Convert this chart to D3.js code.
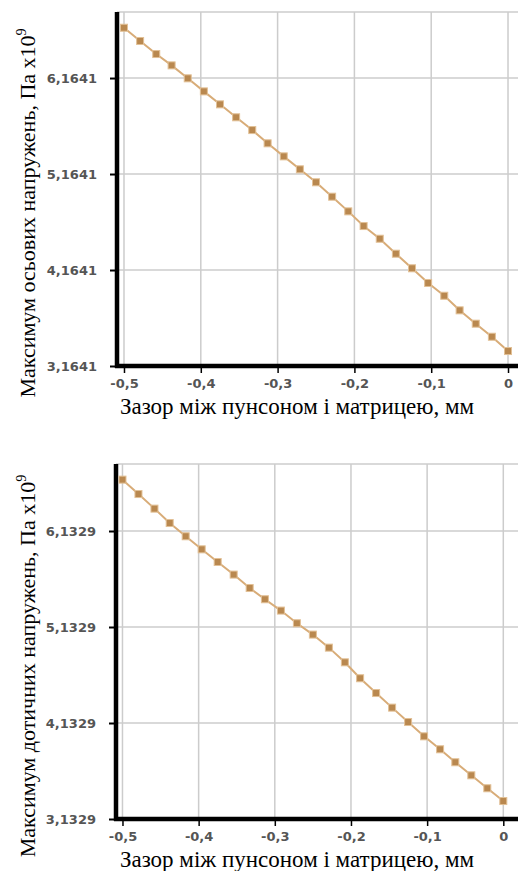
<!DOCTYPE html>
<html lang="uk">
<head>
<meta charset="utf-8">
<title>Максимум напружень</title>
<script src="https://d3js.org/d3.v7.min.js"></script>
<style>
body { margin: 0; background: #fff; }
.tick-label { font-family: "DejaVu Sans", sans-serif; font-weight: bold; font-size: 13px; fill: #555; }
.title { font-family: "Liberation Serif", "Times New Roman", serif; font-size: 22px; fill: #000; }
.xtitle { font-size: 23px; }
.grid { stroke: #cccccc; stroke-width: 1.5; }
</style>
</head>
<body>
<script>
// зазор між пунсоном і матрицею, мм
var gap = [-0.5, -0.479, -0.458, -0.438, -0.417, -0.396, -0.375, -0.354, -0.333,
           -0.313, -0.292, -0.271, -0.25, -0.229, -0.208, -0.188, -0.167, -0.146,
           -0.125, -0.104, -0.083, -0.063, -0.042, -0.021, 0];

// максимум осьових напружень, Па x10^9
var axialStress = [6.688, 6.550, 6.414, 6.296, 6.161, 6.025, 5.890, 5.755, 5.622,
                   5.484, 5.348, 5.213, 5.078, 4.928, 4.775, 4.622, 4.490, 4.334,
                   4.182, 4.029, 3.896, 3.744, 3.605, 3.469, 3.320];

// максимум дотичних напружень, Па x10^9
var shearStress = [6.668, 6.518, 6.366, 6.216, 6.078, 5.942, 5.810, 5.679, 5.539,
                   5.422, 5.304, 5.172, 5.054, 4.918, 4.765, 4.599, 4.445, 4.293,
                   4.143, 3.994, 3.859, 3.724, 3.588, 3.453, 3.320];

var xTicks = [-0.5, -0.4, -0.3, -0.2, -0.1, 0];
var xTickLabels = ["-0,5", "-0,4", "-0,3", "-0,2", "-0,1", "0"];

var axialTicks = [3.1641, 4.1641, 5.1641, 6.1641];
var axialTickLabels = ["3,1641", "4,1641", "5,1641", "6,1641"];

var shearTicks = [3.1329, 4.1329, 5.1329, 6.1329];
var shearTickLabels = ["3,1329", "4,1329", "5,1329", "6,1329"];

var xTitle = "Зазор між пунсоном і матрицею, мм";

var W = 518, H = 871;
var svg = d3.select("body").append("svg").attr("width", W).attr("height", H);

function drawPanel(p) {
    var g = svg.append("g");
    var x = d3.scaleLinear().domain(p.xDomain).range([p.left, W]);
    var y = d3.scaleLinear().domain(p.yDomain).range([p.bottom, p.top]);

    // grid
    g.selectAll(".vgrid").data(xTicks).enter().append("line")
        .attr("class", "grid")
        .attr("x1", function(d) { return x(d); }).attr("x2", function(d) { return x(d); })
        .attr("y1", p.top).attr("y2", p.bottom);
    g.selectAll(".hgrid").data(p.yTicks).enter().append("line")
        .attr("class", "grid")
        .attr("x1", p.left).attr("x2", W)
        .attr("y1", function(d) { return y(d); }).attr("y2", function(d) { return y(d); });
    g.append("line").attr("class", "grid")
        .attr("x1", p.left).attr("x2", W).attr("y1", p.top).attr("y2", p.top);

    // y axis
    var yAxis = d3.axisLeft(y).tickValues(p.yTicks)
        .tickFormat(function(d, i) { return p.yLabels[i]; })
        .tickSize(7).tickPadding(13);
    var ya = g.append("g").attr("transform", "translate(" + p.left + ",0)").call(yAxis);
    ya.select(".domain").remove();
    ya.selectAll(".tick line").attr("stroke", "#000").attr("stroke-width", 2);
    ya.selectAll(".tick text").attr("class", "tick-label").attr("font-family", null).attr("font-size", null);

    // x axis
    var xAxis = d3.axisBottom(x).tickValues(xTicks)
        .tickFormat(function(d, i) { return xTickLabels[i]; })
        .tickSize(7).tickPadding(6);
    var xa = g.append("g").attr("transform", "translate(0," + p.bottom + ")").call(xAxis);
    xa.select(".domain").remove();
    xa.selectAll(".tick line").attr("stroke", "#000").attr("stroke-width", 1.5);
    xa.selectAll(".tick text").attr("class", "tick-label").attr("font-family", null).attr("font-size", null);

    // thick axis lines
    g.append("line").attr("x1", p.left).attr("x2", p.left)
        .attr("y1", p.top).attr("y2", p.bottom + 2)
        .attr("stroke", "#000").attr("stroke-width", 4.5);
    g.append("line").attr("x1", p.left - 2).attr("x2", W)
        .attr("y1", p.bottom).attr("y2", p.bottom)
        .attr("stroke", "#000").attr("stroke-width", 4.5);

    // series
    var pts = gap.map(function(d, i) { return [d, p.values[i]]; });
    g.append("path").datum(pts)
        .attr("fill", "none").attr("stroke", "#d8ac78").attr("stroke-width", 2)
        .attr("d", d3.line().x(function(d) { return x(d[0]); }).y(function(d) { return y(d[1]); }));
    g.selectAll(".pt").data(pts).enter().append("rect")
        .attr("x", function(d) { return x(d[0]) - 3.5; })
        .attr("y", function(d) { return y(d[1]) - 3.5; })
        .attr("width", 7).attr("height", 7)
        .attr("fill", "#b9884f").attr("stroke", "#e2c096").attr("stroke-width", 1);

    // titles
    var yt = g.append("text").attr("class", "title")
        .attr("text-anchor", "middle")
        .attr("transform", "translate(35," + (p.bottom - 153) + ") rotate(-90)");
    yt.append("tspan").text(p.yTitle);
    yt.append("tspan").attr("font-size", 14).attr("dy", -9).text("9");

    g.append("text").attr("class", "title xtitle")
        .attr("text-anchor", "middle")
        .attr("x", 297).attr("y", p.bottom + 48)
        .text(xTitle);
}

drawPanel({
    top: 12, bottom: 366, left: 117,
    xDomain: [-0.5091, 0.013], yDomain: [3.1641, 6.852],
    values: axialStress, yTicks: axialTicks, yLabels: axialTickLabels,
    yTitle: "Максимум осьових напружень, Па x10"
});

drawPanel({
    top: 464, bottom: 819, left: 116,
    xDomain: [-0.5085, 0.0193], yDomain: [3.1329, 6.8309],
    values: shearStress, yTicks: shearTicks, yLabels: shearTickLabels,
    yTitle: "Максимум дотичних напружень, Па x10"
});
</script>
</body>
</html>
